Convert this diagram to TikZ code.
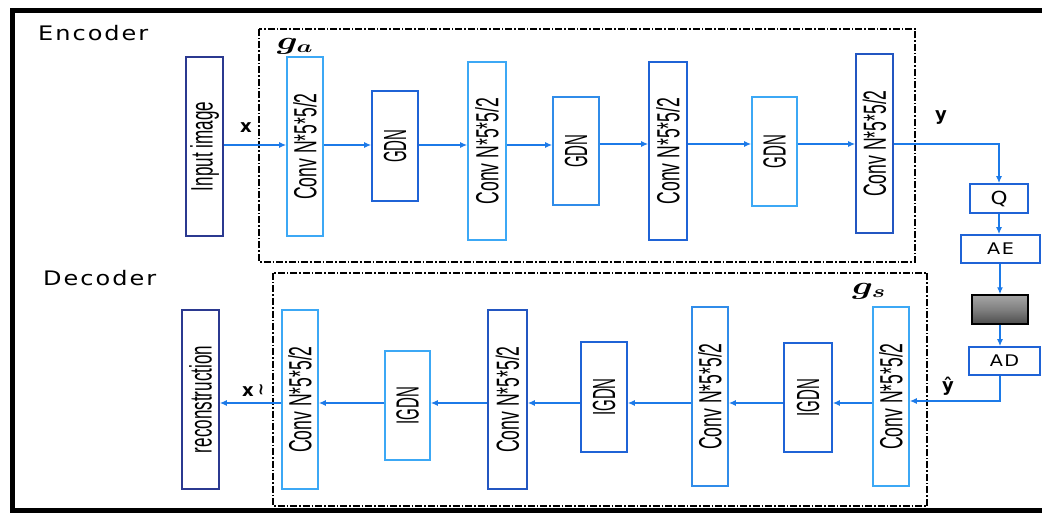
\documentclass[tikz,border=0pt]{standalone}
\usepackage{fontspec}
\usepackage{graphicx}
\usepackage{amsmath,bm}
\usetikzlibrary{arrows.meta}
\newfontfamily\cvfont[FakeStretch=0.55]{Liberation Sans}
\newfontfamily\gdfont[FakeStretch=0.47]{Liberation Sans}
\newfontfamily\lbfont[FakeStretch=1.2,LetterSpace=10]{DejaVu Sans}
\newfontfamily\vbfont{DejaVu Sans}
\definecolor{navy}{HTML}{2B3990}
\definecolor{midb}{HTML}{1F63D6}
\definecolor{lightb}{HTML}{3CA8F5}
\definecolor{arrb}{HTML}{1C7AE8}
\newcommand\cvtext{\rotatebox{90}{\cvfont\fontsize{32}{34}\selectfont Conv N*5*5/2}}
\newcommand\rtext[1]{\rotatebox{90}{\cvfont\fontsize{31}{33}\selectfont #1}}
\newcommand\gtext[1]{\rotatebox{90}{\gdfont\fontsize{32}{34}\selectfont #1}}
\tikzset{
  blk/.style={draw, line width=1.6pt, fill=white, inner sep=0pt},
  arr/.style={draw=arrb, line width=1.3pt, -{Latex[length=7pt,width=6pt]}},
  grp/.style={draw=black, line width=1.3pt, dash pattern=on 7pt off 2pt on 1.5pt off 2pt},
}
\begin{document}
\begin{tikzpicture}[x=1pt,y=-1pt]
\useasboundingbox (0,0) rectangle (1042,513);
\begin{scope}
\clip (0,0) rectangle (1042,513);
\draw[line width=5pt] (12.5,10.5) rectangle (1060,510.5);
\end{scope}
% group boxes
\draw[grp] (259,29) rectangle (915,262);
\draw[grp] (273,273) rectangle (927,506);
\node[anchor=west, inner sep=0pt, font=\lbfont\fontsize{20}{22}\selectfont] (enc) at (38,33) {Encoder};
\node[anchor=west, inner sep=0pt, font=\lbfont\fontsize{20}{22}\selectfont] (dec) at (43,278) {Decoder};
\node (ga) at (295,46) {\fontsize{24}{26}\selectfont\scalebox{1.45}[1]{$\bm{g_a}$}};
\node (gs) at (869,291) {\fontsize{24}{26}\selectfont\scalebox{1.45}[1]{$\bm{g_s}$}};
% encoder blocks
\node[blk, draw=navy, minimum width=37pt, minimum height=179pt] (inp) at (204.5,146.5) {\rtext{Input image}};
\node[blk, draw=lightb, minimum width=36pt, minimum height=179pt] (c1) at (305,146.5) {\cvtext};
\node[blk, draw=midb, minimum width=46pt, minimum height=110pt] (g1) at (395,146) {\gtext{GDN}};
\node[blk, draw=lightb, minimum width=38pt, minimum height=178pt] (c2) at (487,151) {\cvtext};
\node[blk, draw=lightb!60!midb, minimum width=46pt, minimum height=108pt] (g2) at (576,151) {\gtext{GDN}};
\node[blk, draw=midb, minimum width=38pt, minimum height=178pt] (c3) at (668,151) {\cvtext};
\node[blk, draw=lightb, minimum width=45pt, minimum height=109pt] (g3) at (774.5,151.5) {\gtext{GDN}};
\node[blk, draw=midb!70!navy, minimum width=37pt, minimum height=179pt] (c4) at (874.5,143.5) {\cvtext};
% side blocks
\node[blk, draw=midb, minimum width=58pt, minimum height=29pt] (q) at (999,198.5) {\lbfont\fontsize{18}{20}\selectfont Q};
\node[blk, draw=midb, minimum width=79pt, minimum height=28pt] (ae) at (1000.5,249) {\lbfont\fontsize{16}{18}\selectfont AE};
\node[draw=black, line width=1.4pt, inner sep=0pt, minimum width=56pt, minimum height=29pt, top color=black!35, bottom color=black!70, middle color=black!50] (gb) at (1000,309.5) {};
\node[blk, draw=midb, minimum width=71pt, minimum height=28pt] (ad) at (1004.5,361) {\lbfont\fontsize{16}{18}\selectfont AD};
% decoder blocks
\node[blk, draw=lightb, minimum width=36pt, minimum height=179pt] (d1) at (891,396.5) {\cvtext};
\node[blk, draw=midb, minimum width=48pt, minimum height=109pt] (i1) at (808,397.5) {\gtext{IGDN}};
\node[blk, draw=lightb!60!midb, minimum width=36pt, minimum height=179pt] (d2) at (710,396.5) {\cvtext};
\node[blk, draw=midb, minimum width=46pt, minimum height=110pt] (i2) at (604,397) {\gtext{IGDN}};
\node[blk, draw=midb!70!navy, minimum width=39pt, minimum height=179pt] (d3) at (507.5,399.5) {\cvtext};
\node[blk, draw=lightb, minimum width=45pt, minimum height=109pt] (i3) at (407.5,405.5) {\gtext{IGDN}};
\node[blk, draw=lightb, minimum width=36pt, minimum height=179pt] (d4) at (300,399.5) {\cvtext};
\node[blk, draw=navy, minimum width=37pt, minimum height=179pt] (rec) at (200.5,399.5) {\rtext{reconstruction}};
% rows
\coordinate (er) at (0,145);
\coordinate (er2) at (0,144);
\coordinate (dr) at (0,403);
\coordinate (yc) at (999,144);
\coordinate (hc) at (1000,401);
% encoder arrows
\draw[arr] (inp.east |- er) -- (c1.west |- er);
\draw[arr] (c1.east |- er) -- (g1.west |- er);
\draw[arr] (g1.east |- er) -- (c2.west |- er);
\draw[arr] (c2.east |- er) -- (g2.west |- er);
\draw[arr] (g2.east |- er2) -- (c3.west |- er2);
\draw[arr] (c3.east |- er2) -- (g3.west |- er2);
\draw[arr] (g3.east |- er2) -- (c4.west |- er2);
\draw[arr] (c4.east |- er2) -- (yc) -- (q.north);
\draw[arr] (q.south) -- (ae.north -| q.south);
\draw[arr] (ae.south -| gb.north) -- (gb.north);
\draw[arr] (gb.south) -- (ad.north -| gb.south);
\draw[arr] (ad.south -| hc) -- (hc) -- (d1.east |- hc);
% decoder arrows
\draw[arr] (d1.west |- dr) -- (i1.east |- dr);
\draw[arr] (i1.west |- dr) -- (d2.east |- dr);
\draw[arr] (d2.west |- dr) -- (i2.east |- dr);
\draw[arr] (i2.west |- dr) -- (d3.east |- dr);
\draw[arr] (d3.west |- dr) -- (i3.east |- dr);
\draw[arr] (i3.west |- dr) -- (d4.east |- dr);
\draw[arr] (d4.west |- dr) -- (rec.east |- dr);
% labels
\node[font=\vbfont\bfseries\fontsize{18}{20}\selectfont] (lx) at (246,128) {x};
\node[font=\vbfont\bfseries\fontsize{18}{20}\selectfont] (ly) at (941,118) {y};
\node[font=\vbfont\bfseries\fontsize{18}{20}\selectfont] (lyh) at (948,386) {ŷ};
\node[font=\vbfont\bfseries\fontsize{18}{20}\selectfont] (lxt) at (248,392) {x};
\node[font=\vbfont\bfseries\fontsize{16}{18}\selectfont, rotate=90] (lxtt) at (263,390) {\textasciitilde};
\end{tikzpicture}
\end{document}
